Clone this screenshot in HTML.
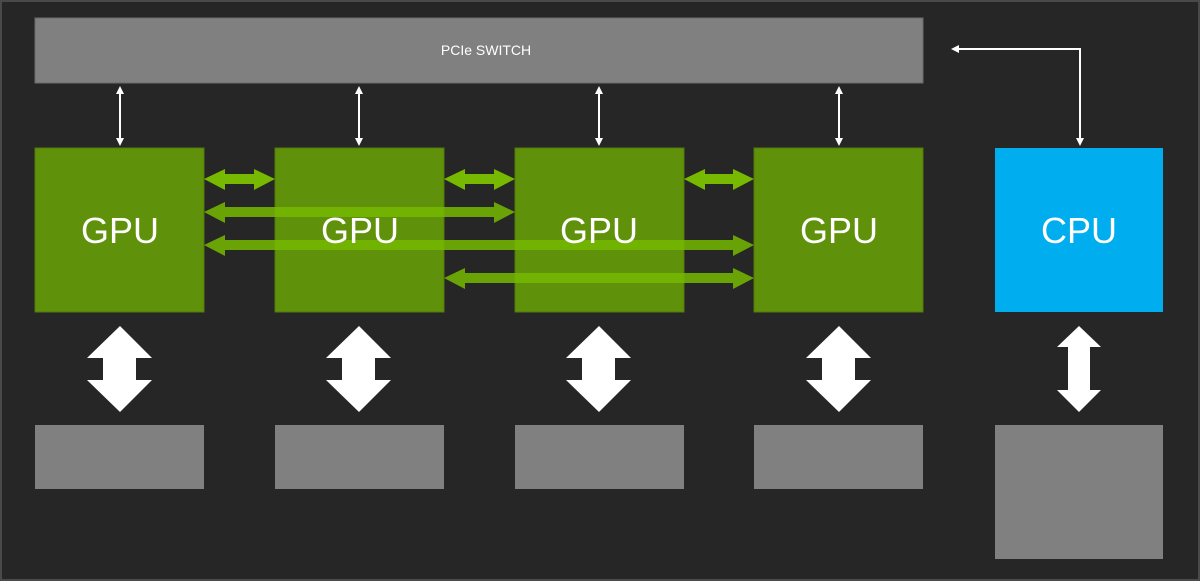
<!DOCTYPE html>
<html><head><meta charset="utf-8"><style>
html,body{margin:0;padding:0;background:#262626;}
svg{display:block}
text{font-family:"Liberation Sans","DejaVu Sans",sans-serif;fill:#fff}
</style></head><body>
<svg width="1200" height="581" viewBox="0 0 1200 581" xmlns="http://www.w3.org/2000/svg">
<rect x="1" y="1" width="1198" height="579" fill="#262626" stroke="#4a4a4a" stroke-width="2"/>
<rect x="35" y="18" width="888" height="65" fill="#808080" stroke="#6a6a6a" stroke-width="1"/>
<text x="486" y="55" font-size="14" text-anchor="middle">PCIe SWITCH</text>

<g fill="#5f910a" stroke="#4f7a08" stroke-width="1">
<rect x="35" y="148" width="169" height="164"/>
<rect x="275" y="148" width="169" height="164"/>
<rect x="515" y="148" width="169" height="164"/>
<rect x="754" y="148" width="169" height="164"/>
</g>
<rect x="995" y="148" width="168" height="164" fill="#00adef"/>

<g fill="#76b900">
<!-- row1 short arrows -->
<polygon points="204,179 225,169 225,174 254,174 254,169 275,179 254,190 254,184 225,184 225,190"/>
<polygon points="444,179 465,169 465,174 494,174 494,169 515,179 494,190 494,184 465,184 465,190"/>
<polygon points="684,179 705,169 705,174 733,174 733,169 754,179 733,190 733,184 705,184 705,190"/>
</g>
<g fill="#76b900" opacity="0.85">
<!-- row2: 204 -> 515 -->
<polygon points="204,212 225,202 225,207 494,207 494,202 515,212 494,223 494,217 225,217 225,223"/>
<!-- row3: 204 -> 754 -->
<polygon points="204,245 225,235 225,240 733,240 733,235 754,245 733,256 733,250 225,250 225,256"/>
<!-- row4: 444 -> 754 -->
<polygon points="444,278 465,268 465,273 733,273 733,268 754,278 733,289 733,283 465,283 465,289"/>
</g>

<g font-size="36" text-anchor="middle">
<text x="120" y="243">GPU</text>
<text x="360" y="243">GPU</text>
<text x="599" y="243">GPU</text>
<text x="839" y="243">GPU</text>
<text x="1079" y="243">CPU</text>
</g>

<!-- thin PCIe arrows -->
<g stroke="#fff" stroke-width="2" fill="#fff">
<line x1="120" y1="92" x2="120" y2="140"/>
<line x1="359" y1="92" x2="359" y2="140"/>
<line x1="599" y1="92" x2="599" y2="140"/>
<line x1="839" y1="92" x2="839" y2="140"/>
<polyline points="958,49 1080,49 1080,140" fill="none"/>
</g>
<g fill="#fff">
<polygon points="120,86 116,94 124,94"/><polygon points="120,146 116,138 124,138"/>
<polygon points="359,86 355,94 363,94"/><polygon points="359,146 355,138 363,138"/>
<polygon points="599,86 595,94 603,94"/><polygon points="599,146 595,138 603,138"/>
<polygon points="839,86 835,94 843,94"/><polygon points="839,146 835,138 843,138"/>
<polygon points="951,49 959,45 959,53"/>
<polygon points="1080,146 1076,138 1084,138"/>
</g>

<!-- big white memory arrows -->
<g fill="#fff">
<polygon points="120,326 152,358 136,358 136,380 152,380 120,412 87,380 103,380 103,358 87,358"/>
<polygon points="359,326 391,358 375,358 375,380 391,380 359,412 326,380 342,380 342,358 326,358"/>
<polygon points="599,326 631,358 615,358 615,380 631,380 599,412 566,380 582,380 582,358 566,358"/>
<polygon points="839,326 871,358 855,358 855,380 871,380 839,412 806,380 822,380 822,358 806,358"/>
<polygon points="1079,326 1101,347 1090,347 1090,390 1101,390 1079,412 1057,390 1068,390 1068,347 1057,347"/>
</g>

<g fill="#808080">
<rect x="35" y="425" width="169" height="64"/>
<rect x="275" y="425" width="169" height="64"/>
<rect x="515" y="425" width="169" height="64"/>
<rect x="754" y="425" width="169" height="64"/>
<rect x="995" y="425" width="168" height="134"/>
</g>
</svg>
</body></html>
